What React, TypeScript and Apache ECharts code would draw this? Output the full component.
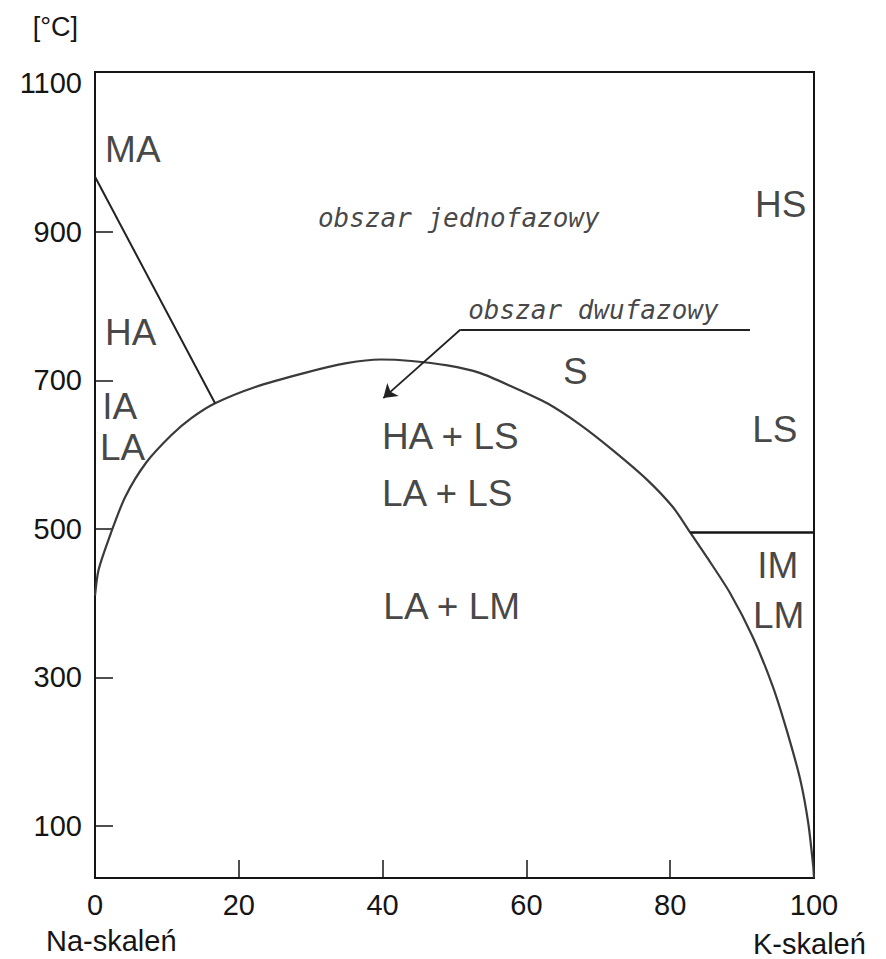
import React, { useEffect, useRef } from "react";
import * as echarts from "echarts";

// Solvus curve (x = % K-feldspar, T = °C)
const solvusX = [0, 0.5, 2.2, 4.2, 7.1, 10.6, 13.4, 16.7, 22.3, 29.2, 35.0, 39.7, 44.0, 49.0, 53.5, 58.1, 62.9, 67.5, 72.0, 76.8, 80.4, 82.8, 85.1, 88.3, 91.5, 94.3, 96.2, 98.1, 99.2, 99.9, 100];
const solvusT = [410, 445, 494, 543, 589, 626, 649, 669, 691, 710, 723, 728, 726, 720, 710, 691, 669, 640, 606, 566, 529, 495, 462, 414, 354, 287, 229, 162, 104, 45, 30];

// Boundary MA / HA
const maLineX = [0, 16.7];
const maLineT = [974, 669];

// Boundary LS / LM
const lsLmX = [82.8, 100];
const lsLmT = [495, 495];

// Leader line for "obszar dwufazowy": underline, then arrow
const underlineX = [91.1, 50.8];
const underlineT = [768, 768];
const arrowX = [50.8, 40.1];
const arrowT = [768, 676];

// Phase labels
const regionNames = ["MA", "HA", "IA", "LA", "HS", "S", "LS", "IM", "LM", "HA + LS", "LA + LS", "LA + LM"];
const regionX = [1.4, 1.4, 1.0, 0.7, 91.8, 65.1, 91.4, 92.1, 91.5, 39.9, 39.9, 40.1];
const regionT = [1011, 765, 665, 610, 937, 712, 634, 451, 384, 625, 547, 396];

// Area captions
const captionNames = ["obszar jednofazowy", "obszar dwufazowy"];
const captionX = [31.0, 51.9];
const captionT = [918, 795];

// Axis ticks / labels
const xTickLabels = [0, 20, 40, 60, 80, 100];
const yTickMarks = [100, 300, 500, 700, 900];
const yTickLabels = [100, 300, 500, 700, 900, 1100];

const zip = (a: number[], b: number[]) => a.map((v, i) => [v, b[i]]);

const INK = "#151515";
const SANS = "'Liberation Sans', Arial, sans-serif";
const MONO = "'DejaVu Sans Mono', 'Liberation Mono', monospace";

export default function App() {
  const ref = useRef<HTMLDivElement>(null);

  useEffect(() => {
    document.body.style.margin = "0";
    const chart = echarts.init(ref.current!, undefined, { renderer: "svg" });
    const option: any = {
      animation: false,
      backgroundColor: "#ffffff",
      grid: {
        left: 95,
        right: 72,
        top: 72,
        bottom: 81,
        show: true,
        borderColor: INK,
        borderWidth: 2,
        backgroundColor: "transparent",
      },
      xAxis: {
        type: "value",
        min: 0,
        max: 100,
        interval: 20,
        axisLine: { show: true, onZero: false, lineStyle: { color: INK, width: 2 } },
        axisTick: { show: true, inside: true, length: 18, lineStyle: { color: INK, width: 1.5 } },
        axisLabel: {
          show: true,
          margin: 12,
          fontSize: 29,
          color: INK,
          fontFamily: SANS,
          showMinLabel: true,
          showMaxLabel: true,
          customValues: xTickLabels,
          formatter: (v: number) => String(v),
        },
        splitLine: { show: false },
      },
      yAxis: {
        type: "value",
        min: 30,
        max: 1115,
        name: "[°C]",
        nameLocation: "end",
        nameGap: 45,
        nameTextStyle: {
          fontSize: 27,
          color: INK,
          fontFamily: SANS,
          align: "right",
          verticalAlign: "middle",
          padding: [0, 17, 0, 0],
        },
        axisLine: { show: true, lineStyle: { color: INK, width: 2 } },
        axisTick: {
          show: true,
          inside: true,
          length: 18,
          customValues: yTickMarks,
          lineStyle: { color: INK, width: 1.5 },
        },
        axisLabel: {
          show: true,
          margin: 13,
          fontSize: 29,
          color: INK,
          fontFamily: SANS,
          customValues: yTickLabels,
          formatter: (v: number) => String(v),
        },
        splitLine: { show: false },
      },
      graphic: [
        {
          type: "text",
          left: 46,
          top: 926,
          style: { text: "Na-skaleń", fontSize: 29, fill: INK, fontFamily: SANS },
        },
        {
          type: "text",
          left: 753,
          top: 929,
          style: { text: "K-skaleń", fontSize: 29, fill: INK, fontFamily: SANS },
        },
      ],
      series: [
        {
          name: "solvus",
          type: "line",
          data: zip(solvusX, solvusT),
          showSymbol: false,
          symbol: "none",
          smooth: 0.25,
          lineStyle: { color: "#3a3a3a", width: 2.2 },
          z: 3,
        },
        {
          name: "MA/HA",
          type: "line",
          data: zip(maLineX, maLineT),
          showSymbol: false,
          symbol: "none",
          lineStyle: { color: "#222222", width: 2 },
        },
        {
          name: "LS/LM",
          type: "line",
          data: zip(lsLmX, lsLmT),
          showSymbol: false,
          symbol: "none",
          lineStyle: { color: "#151515", width: 2.4 },
        },
        {
          name: "underline",
          type: "lines",
          coordinateSystem: "cartesian2d",
          symbol: ["none", "none"],
          data: [{ coords: zip(underlineX, underlineT) }],
          lineStyle: { color: "#222222", width: 1.8, opacity: 1, curveness: 0 },
          z: 4,
        },
        {
          name: "arrow",
          type: "lines",
          coordinateSystem: "cartesian2d",
          symbol: ["none", "arrow"],
          symbolSize: [0, 13],
          data: [{ coords: zip(arrowX, arrowT) }],
          lineStyle: { color: "#222222", width: 1.8, opacity: 1, curveness: 0 },
          z: 4,
        },
        {
          name: "regions",
          type: "scatter",
          symbolSize: 0,
          data: regionNames.map((n, i) => ({ name: n, value: [regionX[i], regionT[i]] })),
          label: {
            show: true,
            formatter: "{b}",
            position: [0, 0],
            align: "left",
            verticalAlign: "middle",
            fontSize: 37,
            color: INK,
            fontFamily: SANS,
          },
          silent: true,
          z: 5,
        },
        {
          name: "captions",
          type: "scatter",
          symbolSize: 0,
          data: captionNames.map((n, i) => ({ name: n, value: [captionX[i], captionT[i]] })),
          label: {
            show: true,
            formatter: "{b}",
            position: [0, 0],
            align: "left",
            verticalAlign: "middle",
            fontSize: 26,
            fontStyle: "italic",
            color: INK,
            fontFamily: MONO,
          },
          silent: true,
          z: 5,
        },
      ],
    };
    chart.setOption(option);
    return () => chart.dispose();
  }, []);

  return (
    <div
      ref={ref}
      style={{ position: "absolute", left: 0, top: 0, width: 886, height: 959 }}
    />
  );
}
